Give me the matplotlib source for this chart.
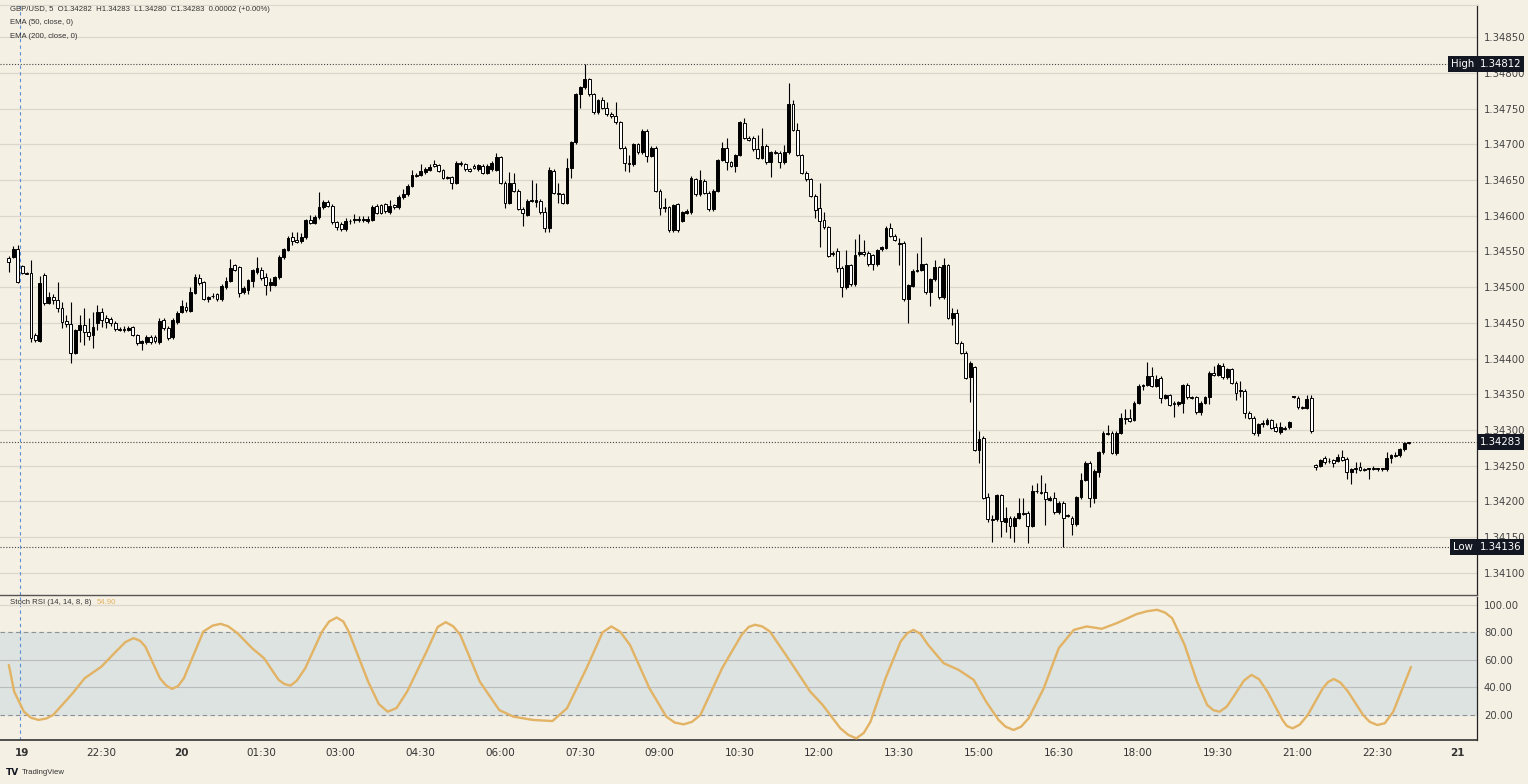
import matplotlib.pyplot as plt
import numpy as np

# GBP/USD 5 min candles, prices in points (1e-5) above 1.34000
BASE = 1.34

opens = [
    541, 542, 553, 530, 520, 520, 433, 425, 517, 478, 486, 482, 471, 453, 448, 408, 440, 447, 437, 433,
    450, 465, 457, 455, 450, 441, 441, 440, 444, 433, 422, 423, 430, 430, 423, 454, 443, 430, 451, 465,
    472, 467, 492, 513, 507, 483, 488, 490, 483, 500, 509, 531, 528, 493, 496, 509, 521, 524, 514, 503,
    503, 514, 542, 552, 570, 566, 565, 570, 594, 590, 598, 612, 619, 614, 591, 588, 581, 593, 594, 596,
    594, 593, 594, 614, 615, 616, 605, 615, 612, 626, 630, 642, 657, 657, 661, 664, 672, 671, 664, 654,
    654, 646, 674, 672, 665, 670, 665, 670, 660, 665, 664, 682, 646, 618, 646, 635, 610, 601, 621, 619,
    621, 605, 583, 663, 632, 630, 618, 667, 703, 770, 780, 791, 770, 745, 762, 751, 742, 740, 731, 695,
    674, 672, 700, 689, 719, 684, 695, 635, 612, 612, 580, 616, 593, 604, 605, 651, 630, 649, 632, 609,
    635, 678, 695, 675, 670, 685, 730, 709, 709, 693, 681, 698, 675, 689, 688, 675, 689, 756, 720, 685,
    660, 651, 628, 611, 594, 584, 548, 551, 527, 500, 531, 504, 546, 549, 548, 545, 532, 553, 555, 583,
    572, 562, 562, 483, 502, 523, 524, 532, 493, 511, 528, 486, 531, 457, 464, 422, 408, 374, 388, 272,
    289, 206, 175, 175, 209, 171, 177, 166, 177, 184, 184, 166, 215, 213, 213, 202, 205, 185, 198, 181,
    177, 168, 206, 230, 254, 205, 241, 269, 296, 296, 268, 296, 317, 317, 314, 338, 362, 363, 376, 362,
    373, 345, 349, 338, 336, 338, 363, 346, 346, 325, 338, 346, 380, 377, 390, 374, 385, 366, 356, 355,
    324, 317, 296, 310, 308, 314, 304, 297, 303, 304, 346, 345, 332, 331, 345, 251, 250, 261, 257, 258,
    257, 262, 260, 241, 247, 248, 245, 245, 247, 245, 245, 245, 261, 265, 265, 273, 282,
]
highs = [
    544, 558, 559, 531, 521, 538, 436, 516, 520, 493, 490, 507, 479, 461, 479, 441, 461, 471, 457, 465,
    475, 471, 461, 458, 453, 444, 446, 446, 446, 435, 426, 433, 433, 433, 457, 457, 446, 457, 467, 482,
    479, 500, 518, 518, 509, 488, 492, 492, 504, 514, 539, 532, 530, 501, 512, 526, 542, 528, 520, 513,
    516, 545, 555, 571, 577, 577, 576, 596, 601, 601, 633, 622, 622, 616, 593, 591, 597, 596, 602, 600,
    600, 599, 615, 616, 617, 618, 622, 617, 629, 637, 644, 664, 660, 672, 668, 672, 678, 673, 666, 656,
    656, 676, 677, 674, 667, 672, 673, 672, 672, 676, 688, 684, 648, 661, 660, 637, 612, 624, 650, 646,
    623, 612, 668, 665, 646, 632, 681, 705, 772, 782, 812, 793, 772, 764, 766, 759, 745, 759, 733, 697,
    685, 702, 702, 721, 721, 697, 697, 637, 625, 614, 617, 618, 607, 609, 655, 653, 664, 651, 634, 637,
    680, 703, 709, 677, 687, 733, 737, 711, 711, 713, 723, 701, 691, 692, 690, 699, 786, 762, 730, 687,
    662, 653, 630, 646, 605, 586, 551, 555, 529, 552, 533, 567, 574, 566, 550, 547, 554, 558, 585, 590,
    574, 569, 564, 505, 525, 548, 570, 534, 513, 538, 530, 541, 533, 471, 469, 424, 410, 396, 390, 299,
    291, 212, 181, 211, 211, 192, 179, 179, 205, 205, 186, 223, 226, 237, 226, 207, 213, 200, 200, 183,
    179, 208, 240, 256, 256, 245, 271, 298, 307, 298, 298, 324, 329, 329, 340, 364, 365, 395, 388, 377,
    375, 351, 351, 340, 341, 365, 366, 348, 348, 340, 348, 382, 390, 394, 394, 387, 387, 368, 369, 357,
    326, 319, 310, 314, 317, 316, 310, 311, 305, 313, 347, 347, 333, 349, 349, 253, 260, 263, 261, 260,
    266, 272, 262, 247, 255, 255, 247, 247, 250, 247, 247, 269, 267, 269, 275, 283, 283,
]
lows = [
    521, 541, 506, 518, 518, 423, 423, 423, 475, 476, 476, 465, 443, 444, 394, 406, 423, 419, 426, 415,
    440, 444, 443, 446, 439, 439, 437, 438, 431, 419, 412, 421, 421, 422, 421, 440, 426, 428, 449, 464,
    465, 465, 490, 503, 482, 479, 485, 481, 481, 498, 507, 522, 486, 490, 490, 500, 519, 510, 489, 495,
    501, 512, 540, 550, 559, 562, 562, 568, 588, 588, 596, 610, 612, 589, 580, 578, 579, 589, 590, 591,
    591, 590, 592, 602, 602, 604, 603, 610, 610, 624, 628, 640, 654, 655, 659, 662, 668, 661, 651, 651,
    637, 644, 670, 663, 661, 665, 663, 658, 658, 663, 662, 644, 611, 616, 633, 608, 586, 599, 619, 612,
    603, 577, 577, 630, 618, 616, 616, 653, 701, 751, 778, 768, 742, 742, 749, 740, 737, 729, 693, 663,
    661, 670, 687, 687, 675, 682, 633, 601, 605, 577, 577, 577, 591, 602, 603, 628, 628, 630, 607, 607,
    633, 676, 664, 668, 661, 683, 707, 704, 691, 679, 679, 673, 654, 686, 667, 673, 687, 718, 683, 658,
    649, 626, 597, 556, 582, 542, 544, 521, 486, 498, 502, 502, 544, 544, 530, 524, 530, 551, 553, 570,
    564, 531, 481, 450, 500, 521, 522, 491, 474, 509, 484, 484, 455, 447, 420, 406, 371, 339, 270, 254,
    203, 171, 143, 173, 150, 157, 149, 143, 175, 181, 142, 164, 212, 210, 167, 200, 183, 183, 136, 178,
    153, 166, 204, 228, 192, 198, 234, 267, 293, 266, 265, 294, 308, 311, 312, 336, 356, 361, 360, 360,
    338, 343, 333, 318, 334, 324, 344, 343, 323, 321, 336, 336, 375, 375, 372, 372, 364, 342, 346, 317,
    315, 293, 292, 304, 307, 301, 297, 295, 300, 302, 345, 330, 330, 329, 296, 244, 248, 253, 254, 248,
    255, 256, 231, 224, 240, 242, 242, 231, 244, 243, 243, 243, 254, 262, 262, 271, 280,
]
closes = [
    535, 553, 507, 520, 519, 429, 426, 506, 478, 486, 482, 471, 451, 448, 408, 440, 447, 437, 432, 444,
    465, 454, 451, 450, 441, 440, 440, 443, 433, 422, 424, 430, 423, 425, 453, 443, 429, 454, 464, 474,
    468, 493, 514, 506, 483, 486, 487, 483, 502, 509, 527, 524, 492, 499, 510, 524, 527, 513, 503, 507,
    514, 542, 553, 569, 565, 563, 570, 594, 590, 598, 612, 619, 614, 591, 584, 581, 593, 592, 596, 594,
    595, 596, 612, 604, 604, 606, 614, 612, 626, 630, 642, 657, 656, 663, 665, 668, 670, 663, 653, 653,
    646, 674, 673, 665, 663, 667, 671, 660, 670, 674, 682, 646, 618, 646, 635, 610, 604, 621, 622, 622,
    605, 583, 664, 632, 631, 618, 667, 703, 770, 780, 791, 770, 745, 762, 751, 742, 740, 731, 695, 674,
    673, 700, 689, 719, 684, 695, 635, 611, 611, 580, 615, 580, 605, 607, 653, 630, 650, 632, 609, 635,
    678, 695, 675, 670, 685, 731, 709, 706, 693, 681, 698, 675, 689, 688, 675, 689, 756, 720, 685, 660,
    651, 628, 608, 593, 584, 544, 547, 527, 500, 531, 504, 545, 549, 546, 532, 532, 552, 556, 583, 572,
    566, 561, 483, 503, 523, 524, 532, 493, 511, 528, 486, 531, 457, 464, 422, 408, 373, 394, 272, 287,
    205, 175, 174, 209, 173, 177, 166, 177, 184, 183, 166, 215, 214, 212, 203, 205, 185, 198, 177, 180,
    168, 206, 230, 254, 205, 243, 269, 296, 295, 268, 296, 317, 316, 313, 338, 362, 363, 376, 362, 371,
    345, 349, 335, 337, 339, 363, 346, 345, 325, 338, 346, 380, 377, 391, 374, 385, 366, 352, 355, 324,
    317, 296, 308, 309, 314, 303, 299, 304, 302, 311, 346, 332, 331, 343, 298, 248, 258, 255, 256, 254,
    262, 258, 241, 245, 246, 244, 244, 245, 246, 245, 246, 261, 265, 264, 273, 282, 283,
]

# Stoch RSI %K (bar index, value)
rsi_idx = [0, 1.2, 3.4, 5, 6.7, 8.5, 10, 14.4, 17.1, 20.9, 24.2, 26.3, 28.1, 29.6, 30.8, 34.1,
           35.5, 36.8, 38.2, 39.5, 43.9, 46, 47.8, 49.5, 51.6, 54.9, 57.6, 60.9, 62.2, 63.6, 65,
           66.9, 70.7, 72.3, 74, 75.5, 76.7, 81.1, 83.5, 85.5, 87.5, 89.9, 94.3, 96.8, 98.6, 100.3,
           101.9, 106.3, 110.7, 113.9, 118.3, 122.7, 126, 130.4, 134, 136, 138, 140.2, 144.6,
           148.4, 150.3, 152.3, 154.2, 156.1, 161, 165.4, 167, 168.4, 170, 171.8, 176.4, 180.9,
           183.7, 187.7, 189.5, 191.3, 193, 194.5, 197.9, 201.3, 202.8, 204.2, 205.8, 207.5, 211,
           214.4, 217.8, 220.6, 223.4, 225, 226.8, 228.5, 230.2, 233.6, 237, 240.4, 243.3, 246.7,
           250.1, 254.6, 257, 259.2, 261, 262.6, 265.4, 268.2, 270.5, 271.9, 273.3, 274.9, 276.7,
           278.8, 280.5, 282.2, 284.1, 287.5, 288.5, 289.8, 291.4, 293.2, 296.6, 297.8, 299.1,
           300.6, 302.3, 305.7, 307.2, 308.9, 310.6, 312.5, 316.5]
rsi_val = [56.4, 37, 22.4, 18, 16.4, 17.5, 20, 35.8, 46.7, 55.2, 66.2, 73, 75.9, 74, 69.8, 46.7,
           41.5, 39, 41, 46.7, 80.7, 85, 86.3, 84.5, 79.5, 68.6, 61.3, 45.5, 42.5, 41.4, 45,
           54, 80.7, 88, 90.9, 88, 80.7, 44.3, 28, 22.4, 25, 37, 66.2, 84, 87.5, 84.5,
           78.3, 44.3, 23.6, 18.8, 16.4, 15.6, 24.9, 54, 80, 84.4, 80.5, 71, 39.4,
           18.8, 14.5, 13.2, 15, 20, 54, 78.3, 84, 85.6, 84.5, 80.7, 58.9, 37,
           27.3, 10.3, 5.5, 3, 7, 15.1, 46.7, 73.4, 79.5, 81.9, 79, 71, 57.7,
           52.8, 45.5, 29.7, 16.4, 11.5, 9.1, 11.5, 17.6, 39.4, 68.6, 81.9, 84.4, 82.7,
           86.8, 93.4, 95.5, 96.5, 94.5, 90.4, 71, 44.3, 27.3, 23.5, 22.4, 26, 34.6,
           45, 49.2, 46, 37, 16.4, 12, 10.3, 13, 20, 39.4, 44, 46.2,
           43.5, 37, 20, 15, 12.7, 14, 22.4, 54.9]

time_labels = ["19", "22:30", "20", "01:30", "03:00", "04:30", "06:00", "07:30", "09:00", "10:30",
               "12:00", "13:30", "15:00", "16:30", "18:00", "19:30", "21:00", "22:30", "21"]
date_labels = {"19", "20", "21"}
first_tick = 2.9      # bar index of 21:00 on the 19th
bars_per_tick = 18    # 90 minutes of 5 min bars

BG = "#f5f0e4"
GRID = "#dcd7cc"
RSI_COLOR = "#e2b364"
SMALL = dict(family=["Liberation Sans", "DejaVu Sans"], fontsize=5.6, va="center")

o = BASE + np.array(opens) / 1e5
h = BASE + np.array(highs) / 1e5
l = BASE + np.array(lows) / 1e5
c = BASE + np.array(closes) / 1e5
x = np.arange(len(o))

fig = plt.figure(figsize=(15.28, 7.84), dpi=100, facecolor=BG)
ax = fig.add_axes([0, 0.2411, 0.9666, 0.7525], facecolor=BG)
rx = fig.add_axes([0, 0.0561, 0.9666, 0.1824], facecolor=BG, sharex=ax)

# candles: black = up, white = down
up = c >= o
body_low = np.minimum(o, c)
body_h = np.maximum(np.abs(c - o), 0.000012)
ax.vlines(x, l, h, color="black", lw=0.8, zorder=2)
ax.bar(x, body_h, bottom=body_low, width=0.64,
       color=np.where(up, "black", "white"), edgecolor="black", lw=0.7, zorder=3)

ax.set_xlim(-2.0, 331.4)
ax.set_ylim(1.34069, 1.34895)
price_ticks = np.arange(1.341, 1.34851, 0.0005)
ax.set_yticks(price_ticks)
ax.set_yticklabels([f"{p:.5f}" for p in price_ticks])
ax.yaxis.tick_right()
ax.tick_params(axis="y", length=0, pad=5, labelsize=7.3, labelcolor="#444444")
ax.tick_params(axis="x", length=0, labelbottom=False)
ax.grid(axis="y", color=GRID, lw=0.9)
ax.set_axisbelow(True)
ax.spines["left"].set_visible(False)
ax.spines["top"].set_color(GRID)
ax.spines["right"].set_color("#222222")
ax.spines["right"].set_linewidth(0.9)
ax.spines["bottom"].set_color("#555555")
ax.spines["bottom"].set_linewidth(1.0)

# high / low / last price markers
hi, lo, last = h.max(), l.min(), c[-1]
dots = (0, (1, 1.6))
for val in (hi, lo, last):
    ax.axhline(val, color="#444444", lw=0.8, ls=dots, zorder=1)
box = dict(boxstyle="square,pad=0.3", fc="#131722", ec="none")
tr = ax.get_yaxis_transform()
for val, tag in ((hi, "High"), (lo, "Low"), (last, None)):
    ax.text(1.0158, val, f"{val:.5f}", transform=tr, ha="center", va="center",
            fontsize=7.3, color="white", bbox=box, zorder=10, clip_on=False)
    if tag:
        ax.text(0.9905, val, tag, transform=tr, ha="center", va="center",
                fontsize=7.3, color="white", bbox=box, zorder=10)

# Stoch RSI pane
rx.set_ylim(1.8, 105.8)
rx.axhspan(20, 80, color="#dde3e0", zorder=0)
rx.axhline(100, color=GRID, lw=0.9)
for lvl in (80, 20):
    rx.axhline(lvl, color="#8d9196", lw=0.8, ls=(0, (4, 3)))
for lvl in (60, 40):
    rx.axhline(lvl, color="#b9bdbf", lw=0.8)
rx.plot(rsi_idx, rsi_val, color=RSI_COLOR, lw=1.7, solid_joinstyle="round",
        solid_capstyle="round", zorder=3)
rx.set_yticks([100, 80, 60, 40, 20])
rx.set_yticklabels(["100.00", "80.00", "60.00", "40.00", "20.00"])
rx.yaxis.tick_right()
rx.tick_params(axis="y", length=0, pad=5, labelsize=7.3, labelcolor="#444444")

tick_pos = [first_tick + bars_per_tick * k for k in range(len(time_labels))]
rx.set_xticks(tick_pos)
rx.set_xticklabels(time_labels)
rx.tick_params(axis="x", length=0, pad=6, labelsize=7.5, labelcolor="#333333")
for lab in rx.get_xticklabels():
    if lab.get_text() in date_labels:
        lab.set_fontweight("bold")
rx.spines["left"].set_visible(False)
rx.spines["top"].set_visible(False)
rx.spines["right"].set_color("#222222")
rx.spines["right"].set_linewidth(0.9)
rx.spines["bottom"].set_color("#333333")
rx.spines["bottom"].set_linewidth(1.2)

# session break
for a in (ax, rx):
    a.axvline(tick_pos[0] - 0.3, color="#5b8fd6", lw=0.8, ls=(0, (3, 3)), zorder=1)

# legends / captions
fig.text(0.0065, 0.9885, "GBP/USD, 5  O1.34282  H1.34283  L1.34280  C1.34283  0.00002 (+0.00%)",
         color="#333333", **SMALL)
fig.text(0.0065, 0.9707, "EMA (50, close, 0)", color="#333333", **SMALL)
fig.text(0.0065, 0.954, "EMA (200, close, 0)", color="#333333", **SMALL)
fig.text(0.0065, 0.2309, "Stoch RSI (14, 14, 8, 8)", color="#333333", **SMALL)
fig.text(0.0635, 0.2309, f"{rsi_val[-1]:.2f}", color=RSI_COLOR, **SMALL)
fig.text(0.004, 0.0153, "TV", fontsize=6.5, fontweight="bold", color="#131722", va="center")
fig.text(0.0145, 0.0153, "TradingView", color="#333333", **SMALL)

fig.savefig("out.png", dpi=100, facecolor=BG)
